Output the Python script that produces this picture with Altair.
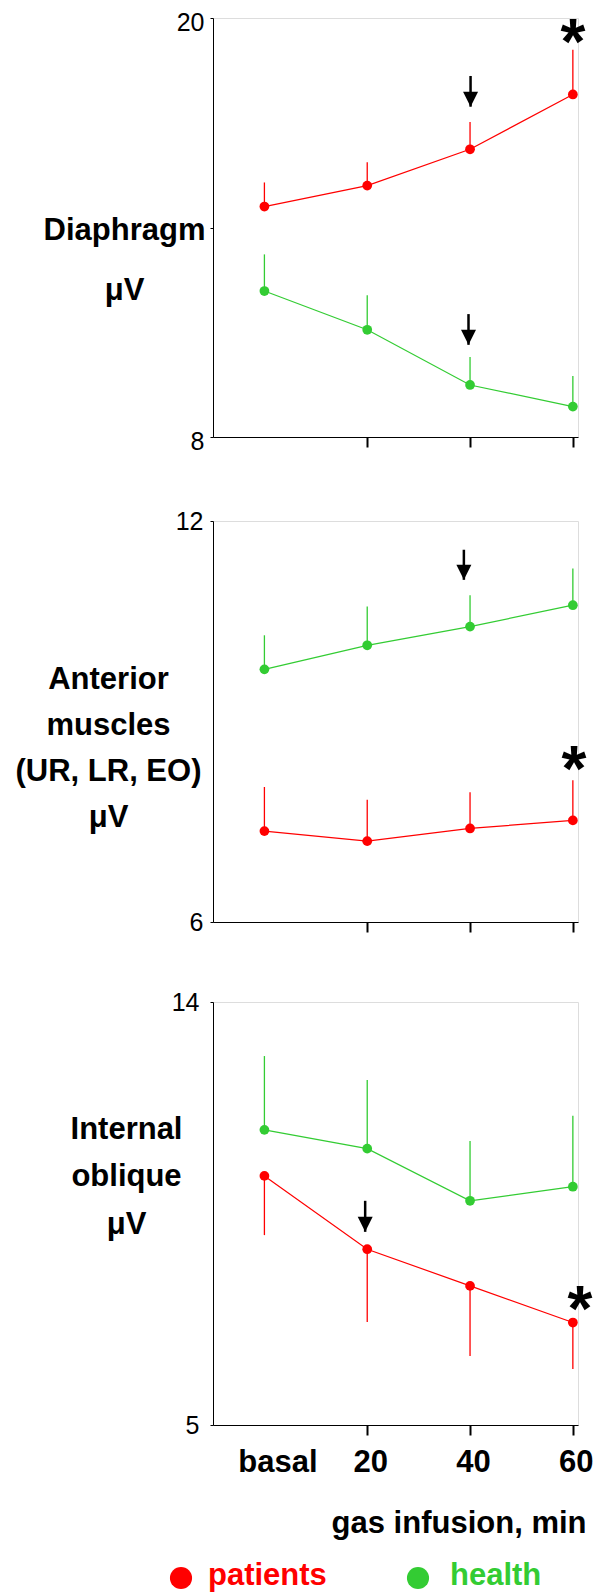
import altair as alt
import pandas as pd

RED = "#ff0000"
GREEN = "#33cc33"
FONT = "Liberation Sans"

times = [0, 20, 40, 60]
series_names = ["patients", "health"]

# Diaphragm
dia_pat = [14.60, 15.20, 16.24, 17.81]
dia_pat_err = [15.29, 15.87, 17.02, 19.09]
dia_hea = [12.18, 11.07, 9.49, 8.87]
dia_hea_err = [13.23, 12.06, 10.29, 9.75]
dia_arrow_time = [40.1, 39.7]
dia_arrow_top = [18.34, 11.52]
dia_arrow_tip = [17.46, 10.64]
dia_star_time = [60.0]
dia_star_value = [19.72]

# Anterior muscles
ant_pat = [7.36, 7.21, 7.40, 7.52]
ant_pat_err = [8.02, 7.83, 7.94, 8.12]
ant_hea = [9.78, 10.14, 10.42, 10.74]
ant_hea_err = [10.29, 10.72, 10.89, 11.29]
ant_arrow_time = [38.8]
ant_arrow_top = [11.57]
ant_arrow_tip = [11.12]
ant_star_time = [60.2]
ant_star_value = [8.50]

# Internal oblique
io_pat = [10.30, 8.74, 7.96, 7.18]
io_pat_err = [9.04, 7.19, 6.47, 6.19]
io_hea = [11.28, 10.88, 9.77, 10.07]
io_hea_err = [12.85, 12.34, 11.04, 11.58]
io_arrow_time = [19.6]
io_arrow_top = [9.77]
io_arrow_tip = [9.11]
io_star_time = [61.4]
io_star_value = [7.77]

PLOT_W = 365
X_DOMAIN = [-10, 61]

color = alt.Color(
    "series:N",
    scale=alt.Scale(domain=series_names, range=[RED, GREEN]),
    legend=None,
)


def panel(pat, pat_err, hea, hea_err, a_t, a_top, a_tip, s_t, s_v,
          ydom, yvals, ylabels_expr, height, xaxis, title_lines,
          title_x, title_y, title_lh, label_offset=0, label_pad=7,
          extra=None):
    df = pd.DataFrame({
        "time": times * 2,
        "value": pat + hea,
        "err": pat_err + hea_err,
        "series": ["patients"] * 4 + ["health"] * 4,
    })
    arr = pd.DataFrame({"time": a_t, "value": a_top, "tip": a_tip})
    star = pd.DataFrame({"time": s_t, "value": s_v})

    yaxis = alt.Axis(
        values=yvals, labelExpr=ylabels_expr, format="d", tickSize=3, tickColor="black",
        domainColor="black", grid=False, labelFontSize=25, labelColor="black",
        labelPadding=label_pad, labelOffset=label_offset,
        title=title_lines, titleAngle=0, titleAlign="center",
        titleBaseline="alphabetic", titleX=title_x, titleY=title_y,
        titleFontSize=31, titleFontWeight="bold", titleLineHeight=title_lh,
        titleColor="black",
    )
    x_enc = alt.X("time:Q", scale=alt.Scale(domain=X_DOMAIN, nice=False, zero=False), axis=xaxis)
    y_enc = alt.Y("value:Q", scale=alt.Scale(domain=ydom, nice=False, zero=False), axis=yaxis)

    base = alt.Chart(df)
    err = base.mark_rule(strokeWidth=1.3).encode(x=x_enc, y=y_enc, y2="err:Q", color=color)
    line = base.mark_line(strokeWidth=1.2).encode(x=x_enc, y=y_enc, color=color)
    pts = base.mark_circle(size=95, opacity=1).encode(x=x_enc, y=y_enc, color=color)
    arr_rule = alt.Chart(arr).mark_rule(strokeWidth=2.5, color="black").encode(
        x=x_enc, y=y_enc, y2="tip:Q")
    arr_head = alt.Chart(arr).mark_point(
        shape="M -1 -2 L 1 -2 L 0 0 Z", size=225, filled=True, opacity=1,
        color="black", strokeWidth=0).encode(
        x=x_enc, y=alt.Y("tip:Q", scale=alt.Scale(domain=ydom, nice=False, zero=False), axis=yaxis))
    stars = alt.Chart(star).mark_text(
        text="*", fontSize=64, fontWeight="bold", color="black",
        align="center", baseline="middle", dy=17).encode(x=x_enc, y=y_enc)
    layers = [err, line, pts, arr_rule, arr_head, stars]
    if extra:
        layers += extra
    return alt.layer(*layers).properties(width=PLOT_W, height=height)


top_xaxis = alt.Axis(values=[20, 40, 60], labels=False, title=None, tickSize=10,
                     tickWidth=2, tickColor="black", domainColor="black", grid=False)

bottom_xaxis = alt.Axis(
    values=times,
    labelExpr="datum.value == 0 ? 'basal' : datum.label",
    tickSize=10, tickWidth=2, tickColor="black", domainColor="black", grid=False,
    tickOpacity={"condition": {"test": "datum.value == 0", "value": 0}, "value": 1},
    labelOffset={"condition": {"test": "datum.value == 0", "value": 13}, "value": 3},
    labelFontSize=31, labelFontWeight="bold", labelColor="black", labelPadding=12,
    title="gas infusion, min", titleFontSize=31, titleFontWeight="bold",
    titleColor="black", titleX=373, titleY=107, titleAlign="right",
    titleBaseline="alphabetic",
)

legend_layers = [
    alt.Chart(pd.DataFrame({"series": ["patients"]})).mark_circle(size=491, opacity=1, color=RED)
    .encode(x=alt.value(-32), y=alt.value(576)),
    alt.Chart(pd.DataFrame({"series": ["patients"]})).mark_text(
        text="patients", fontSize=31, fontWeight="bold", color=RED, align="left", baseline="middle")
    .encode(x=alt.value(-5), y=alt.value(574)),
    alt.Chart(pd.DataFrame({"series": ["health"]})).mark_circle(size=491, opacity=1, color=GREEN)
    .encode(x=alt.value(205), y=alt.value(576)),
    alt.Chart(pd.DataFrame({"series": ["health"]})).mark_text(
        text="health", fontSize=31, fontWeight="bold", color=GREEN, align="left", baseline="middle")
    .encode(x=alt.value(237), y=alt.value(574)),
]

p1 = panel(dia_pat, dia_pat_err, dia_hea, dia_hea_err,
           dia_arrow_time, dia_arrow_top, dia_arrow_tip, dia_star_time, dia_star_value,
           [8, 20], [8, 14, 20], "datum.value == 14 ? '' : datum.label", 419, top_xaxis,
           ["Diaphragm", "μV"], -89, 221, 60, label_offset=4, label_pad=6)

p2 = panel(ant_pat, ant_pat_err, ant_hea, ant_hea_err,
           ant_arrow_time, ant_arrow_top, ant_arrow_tip, ant_star_time, ant_star_value,
           [6, 12], [6, 12], "datum.label", 401, top_xaxis,
           ["Anterior", "muscles", "(UR, LR, EO)", "μV"], -105, 167, 46, label_pad=7)

p3 = panel(io_pat, io_pat_err, io_hea, io_hea_err,
           io_arrow_time, io_arrow_top, io_arrow_tip, io_star_time, io_star_value,
           [5, 14], [5, 14], "datum.label", 423, bottom_xaxis,
           ["Internal", "oblique", "μV"], -87, 136, 47.5, label_pad=11,
           extra=legend_layers)

chart = alt.vconcat(p1, p2, p3, spacing=53).properties(
    padding={"left": 14, "top": 9, "right": 0, "bottom": 10}
).configure_view(stroke=None).configure_axis(grid=False).configure(font=FONT)

chart.save("out.html", embed_options={"renderer": "svg", "actions": False})
